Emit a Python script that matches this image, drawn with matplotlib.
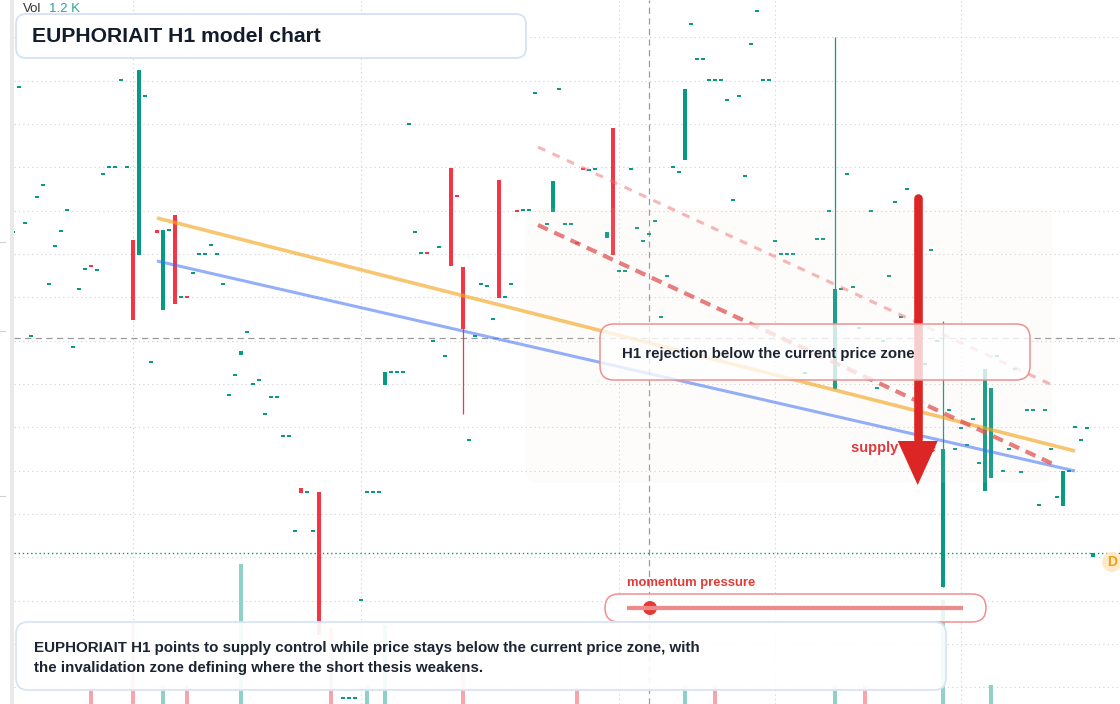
import matplotlib
matplotlib.use("Agg")
import matplotlib.pyplot as plt
import matplotlib.transforms as mtransforms
from matplotlib.colors import to_rgba
from matplotlib.lines import Line2D
from matplotlib.patches import FancyBboxPatch, Polygon, Circle, Rectangle
import numpy as np

plt.rcParams["font.family"] = ["Liberation Sans", "DejaVu Sans"]

# ─────────────────────────────────────────────
# DATA  (price in chart units, x = hourly bar index)
# ─────────────────────────────────────────────
# bars with a real body
candle_idx = [22, 23, 26, 27, 29, 40, 50, 53, 64, 75, 77, 83, 92, 101, 102,
              114, 139, 157, 164, 165, 177, 182]
candle_open = [46.4, 44.9, 47.4, 39.4, 48.9, 34.9, 21.6, 21.2, 31.93, 53.6,
               43.7, 52.4, 49.2, 46.63, 57.6, 54.4, 31.53, 11.7, 21.33, 22.63,
               19.83, 14.67]
candle_high = [46.4, 63.4, 47.4, 47.4, 48.9, 35.3, 21.6, 21.2, 33.2, 53.6,
               43.7, 52.4, 52.3, 47.17, 57.6, 61.5, 66.67, 38.27, 33.5, 31.6,
               23.27, 15.07]
candle_low = [38.4, 44.9, 47.1, 39.4, 40.0, 34.9, 21.1, 6.9, 31.93, 43.83,
              29.0, 40.63, 49.2, 46.63, 44.93, 54.4, 31.53, 11.7, 21.33, 22.63,
              19.83, 14.67]
candle_close = [38.4, 63.4, 47.1, 47.4, 40.0, 35.3, 21.1, 6.9, 33.2, 43.83,
                37.53, 40.63, 52.3, 47.17, 44.93, 61.5, 41.5, 25.5, 33.5, 31.6,
                23.27, 15.07]

# flat bars (open == close)
doji_idx = [2, 3, 4, 5, 6, 7, 8, 9, 10, 11, 12, 13, 14, 15, 16, 17, 18, 19, 20,
            21, 24, 25, 28, 30, 31, 32, 33, 34, 35, 36, 37, 38, 39, 41, 42, 43,
            44, 45, 46, 47, 48, 49, 51, 52, 57, 58, 59, 60, 61, 62, 63, 65, 66,
            67, 68, 69, 70, 71, 72, 73, 74, 76, 78, 79, 80, 81, 82, 84, 85, 86,
            87, 88, 89, 91, 93, 94, 95, 96, 97, 98, 99, 103, 104, 105, 106,
            107, 108, 109, 110, 111, 112, 113, 115, 116, 117, 118, 119, 120,
            121, 122, 123, 124, 125, 126, 127, 128, 129, 130, 131, 132, 134,
            136, 137, 138, 140, 141, 142, 143, 145, 146, 147, 148, 149, 150,
            151, 154, 155, 156, 158, 159, 160, 161, 162, 163, 166, 167, 168,
            169, 170, 171, 172, 173, 174, 175, 176, 178, 179, 180, 181]
doji_price = [47.2, 61.67, 48.07, 36.77, 50.67, 51.87, 41.97, 45.77, 47.27,
              49.37, 35.67, 41.47, 43.47, 43.77, 43.37, 52.97, 53.67, 53.67,
              62.37, 53.67, 60.77, 34.17, 47.37, 40.67, 40.67, 43.07, 44.97,
              44.97, 45.87, 44.97, 41.97, 30.87, 32.87, 37.17, 31.97, 32.37,
              28.97, 30.67, 30.67, 26.77, 26.77, 17.27, 21.17, 17.27, 0.63,
              0.63, 0.63, 10.4, 21.17, 21.17, 21.17, 33.17, 33.17, 33.17,
              57.97, 47.17, 45.07, 45.07, 36.27, 45.67, 34.77, 50.77, 26.37,
              36.77, 41.97, 41.77, 38.47, 40.67, 41.97, 49.27, 49.37, 49.37,
              61.07, 47.97, 61.47, 47.97, 47.97, 46.13, 53.47, 53.4, 53.47,
              43.27, 43.27, 53.47, 47.57, 46.27, 46.97, 48.27, 38.67, 42.77,
              53.67, 53.17, 67.97, 64.47, 64.47, 62.37, 62.37, 62.37, 60.37,
              50.37, 60.77, 52.77, 65.97, 69.27, 62.37, 62.37, 46.27, 44.97,
              44.97, 44.97, 33.07, 46.47, 46.47, 49.27, 41.47, 52.97, 41.67,
              37.57, 49.27, 31.57, 36.27, 42.77, 50.17, 38.67, 51.47, 33.97,
              45.37, 36.27, 29.37, 25.47, 27.57, 25.87, 28.47, 24.13, 34.77,
              23.27, 25.47, 33.47, 23.17, 29.37, 29.37, 19.87, 29.37, 25.47,
              20.67, 23.27, 27.67, 26.37, 27.57]
down_doji = [15, 31, 71, 76, 86, 96, 97]

# volume (K)
vol_idx = [15, 22, 27, 31, 40, 55, 61, 64, 77, 96, 114, 119, 139, 144, 157, 165]
vol_k = [0.14, 0.69, 0.16, 0.16, 1.19, 0.65, 0.16, 0.67, 0.42, 0.14, 0.16,
         0.16, 0.16, 0.16, 0.89, 0.16]
vol_up = [0, 0, 1, 0, 1, 0, 1, 1, 0, 0, 1, 0, 1, 0, 1, 1]

# drawn trend lines: (bar, price) endpoints
upper_trend = [(26, 48.6), (179, 25.3)]
lower_trend = [(26, 44.3), (179, 23.3)]
supply_line = [(89.5, 47.9), (175.7, 23.9)]
outer_line = [(89.5, 55.7), (175.2, 31.9)]

time_grid = [22, 60, 103, 129, 160]
cursor_bar = 108
cursor_price = 36.6

GREEN = "#089981"
RED = "#f23645"
W, H = 1120, 704

fig = plt.figure(figsize=(W / 100, H / 100), dpi=100)
fig.patch.set_facecolor("white")
rect = [14 / W, 0, (W - 14) / W, 1]
xlim = (2.1667, 186.5)

# volume pane behind the price pane
vax = fig.add_axes(rect)
vax.set_xlim(*xlim)
vax.set_ylim(0, 6.0)
vax.bar(vol_idx, vol_k, width=0.75, linewidth=0,
        color=[to_rgba(GREEN, 0.45) if u else to_rgba(RED, 0.45) for u in vol_up])
vax.axis("off")

ax = fig.add_axes(rect)
ax.patch.set_visible(False)
ax.set_xlim(*xlim)
ax.set_ylim(0, 70.4)
ax.set_xticks(time_grid)
ax.set_yticks(np.linspace(1.67, 66.67, 16))
ax.set_axisbelow(True)
ax.grid(True, color="#cfcfcf", linewidth=0.8, linestyle=(0, (1, 3)))
ax.tick_params(length=0, labelbottom=False, labelleft=False)
for s in ax.spines.values():
    s.set_visible(False)

# crosshair + last price line
ax.axhline(cursor_price, color="#9a9a9a", lw=0.9, dashes=(5, 3.5), zorder=1)
ax.axvline(cursor_bar, color="#9a9a9a", lw=0.9, dashes=(5, 3.5), zorder=1)
ax.axhline(candle_close[-1], color=GREEN, lw=1.0, dashes=(1, 2), zorder=1)

# candles
for i, o, h, l, c in zip(candle_idx, candle_open, candle_high, candle_low, candle_close):
    col = GREEN if c >= o else RED
    if h > max(o, c) or l < min(o, c):
        ax.vlines(i, l, h, color=col, lw=0.9, zorder=2)
bodies = [abs(c - o) for o, c in zip(candle_open, candle_close)]
bottoms = [min(o, c) for o, c in zip(candle_open, candle_close)]
ax.bar(candle_idx, bodies, bottom=bottoms, width=0.78, linewidth=0, zorder=2,
       color=[GREEN if c >= o else RED for o, c in zip(candle_open, candle_close)])
doji_cols = [RED if i in down_doji else GREEN for i in doji_idx]
ax.bar(doji_idx, 0.18, bottom=np.array(doji_price) - 0.09, width=0.78,
       linewidth=0, color=doji_cols, zorder=2)

# supply zone shading
zone = FancyBboxPatch((87.5, 22.1), 87.7, 27.5, boxstyle="round,pad=0,rounding_size=2",
                      mutation_aspect=0.6, facecolor="#f3e6da", alpha=0.09,
                      edgecolor="none", zorder=3)
ax.add_patch(zone)

# trend lines
ax.plot(*zip(*upper_trend), color="#f5a623", alpha=0.65, lw=2.6, zorder=4,
        solid_capstyle="butt")
ax.plot(*zip(*lower_trend), color="#3b6ef5", alpha=0.55, lw=2.2, zorder=4,
        solid_capstyle="butt")
ax.plot(*zip(*supply_line), color="#e05252", alpha=0.75, lw=3.0, zorder=4,
        dashes=(2.6, 1.7))
ax.plot(*zip(*outer_line), color="#ef6f6f", alpha=0.5, lw=2.2, zorder=4,
        dashes=(2.6, 2.6))

# supply arrow and label
ax.text(141.67, 25.6, "supply zone", color="#e0393e", fontsize=10.5,
        fontweight="bold", ha="left", va="center", zorder=5)
ax.plot([152.78, 152.78], [26.5, 50.65], color="#dc2626", lw=6.2,
        solid_capstyle="round", zorder=6)
ax.add_patch(Polygon([(149.45, 26.3), (156.12, 26.3), (152.78, 21.9)],
                     closed=True, facecolor="#dc2626", edgecolor="none", zorder=6))

# ─────────────────────────────────────────────
# overlay widgets (pixel coordinates, top-left origin)
# ─────────────────────────────────────────────
ident = mtransforms.IdentityTransform()


def round_box(x0, y0, x1, y1, r, fc, fa, ec, lw):
    p = FancyBboxPatch((x0, H - y1), x1 - x0, y1 - y0,
                       boxstyle=f"round,pad=0,rounding_size={r}",
                       transform=ident, facecolor=to_rgba(fc, fa),
                       edgecolor=ec, linewidth=lw)
    fig.add_artist(p)


def label(x, y, s, **kw):
    fig.text(x / W, 1 - y / H, s, va="center", ha="left", **kw)


fig.add_artist(Rectangle((10, 0), 4, H, transform=ident, facecolor="#e9e9e9",
                         edgecolor="none"))
for ty in (242, 331, 496):
    fig.add_artist(Line2D([0, 5], [H - ty, H - ty], transform=ident,
                          color="#d0d0d0", lw=0.8))

round_box(16, 14, 526, 58, 10, "white", 1.0, "#d4e2f5", 1.3)
label(32, 37, "EUPHORIAIT H1 model chart", fontsize=15.2, fontweight="bold",
      color="#131c2b")
label(23, 9, "Vol", fontsize=9.5, color="#333333")
label(49, 9, "1.2 K", fontsize=9.5, color="#26a69a")

round_box(600, 324, 1030, 380, 14, "white", 0.78, "#ee9090", 1.1)
label(622, 354, "H1 rejection below the current price zone", fontsize=10.8,
      fontweight="bold", color="#1c2333")

label(627, 583, "momentum pressure", fontsize=9.4, fontweight="bold",
      color="#e53935")
round_box(605, 594, 986, 622, 14, "white", 0.8, "#ef8f8f", 1.1)
fig.add_artist(Line2D([627, 963], [H - 608, H - 608], transform=ident,
                      color="#ee8a8a", lw=3.0, solid_capstyle="butt"))
fig.add_artist(Circle((650, H - 608), 7, transform=ident, facecolor="#e53935",
                      edgecolor="none"))

round_box(16, 622, 946, 690, 12, "white", 0.92, "#d8e4f6", 1.3)
label(34, 648, "EUPHORIAIT H1 points to supply control while price stays below "
      "the current price zone, with", fontsize=10.9, fontweight="bold",
      color="#1c2333")
label(34, 668, "the invalidation zone defining where the short thesis weakens.",
      fontsize=10.9, fontweight="bold", color="#1c2333")

fig.add_artist(Circle((1112, H - 562), 10, transform=ident, facecolor="#fde9cc",
                      edgecolor="none"))
fig.text(1112 / W, 1 - 562 / H, "D", color="#f59e0b", fontsize=10,
         fontweight="bold", ha="center", va="center")

fig.savefig("out.png", dpi=100)
